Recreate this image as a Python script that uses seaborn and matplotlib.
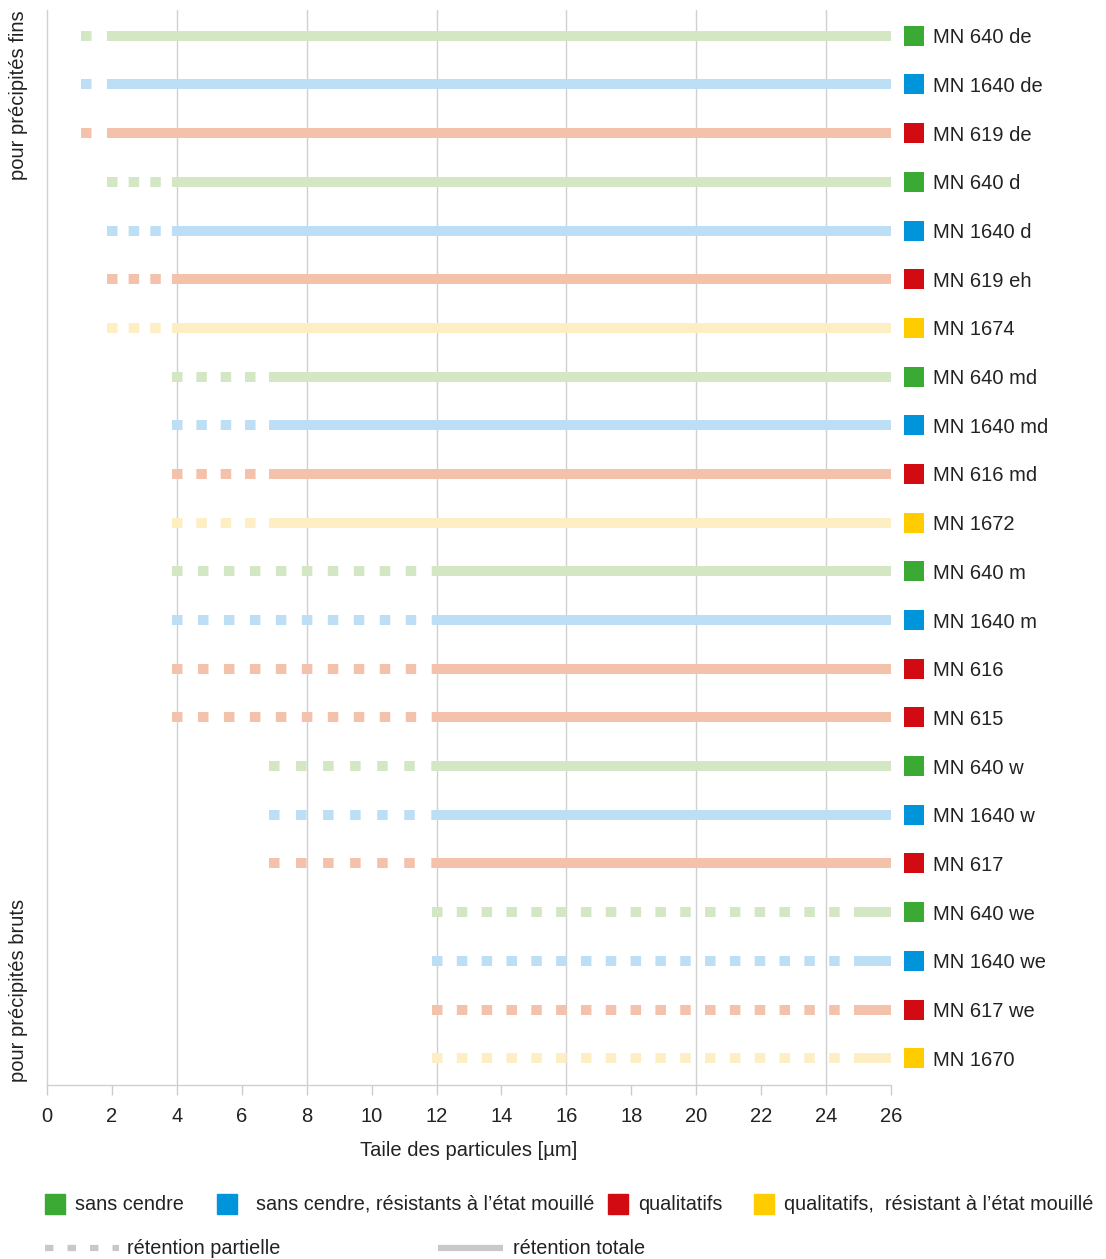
import matplotlib
matplotlib.use("Agg")
import matplotlib.pyplot as plt
import matplotlib.transforms as mtransforms
from matplotlib.patches import Rectangle
from matplotlib.lines import Line2D
import seaborn as sns

# filter names, top to bottom
names = ['MN 640 de', 'MN 1640 de', 'MN 619 de', 'MN 640 d', 'MN 1640 d', 'MN 619 eh',
         'MN 1674', 'MN 640 md', 'MN 1640 md', 'MN 616 md', 'MN 1672', 'MN 640 m',
         'MN 1640 m', 'MN 616', 'MN 615', 'MN 640 w', 'MN 1640 w', 'MN 617',
         'MN 640 we', 'MN 1640 we', 'MN 617 we', 'MN 1670']
# g = sans cendre, b = sans cendre humide, r = qualitatif, y = qualitatif humide
kind = ['g', 'b', 'r', 'g', 'b', 'r', 'y', 'g', 'b', 'r', 'y', 'g',
        'b', 'r', 'r', 'g', 'b', 'r', 'g', 'b', 'r', 'y']
partial_start = [1.2, 1.2, 1.2, 2, 2, 2, 2, 4, 4, 4, 4, 4,
                 4, 4, 4, 7, 7, 7, 12, 12, 12, 12]
total_start = [2, 2, 2, 4, 4, 4, 4, 7, 7, 7, 7, 12,
               12, 12, 12, 12, 12, 12, 25, 25, 25, 25]
x_max = 26

strong = {'g': '#3aaa35', 'b': '#0095db', 'r': '#d20a11', 'y': '#ffcc00'}
pale = {'g': '#d4e7c5', 'b': '#bddff6', 'r': '#f4c1ab', 'y': '#fdeec4'}
legend_labels = {'g': 'sans cendre', 'b': 'sans cendre, résistants à l’état mouillé',
                 'r': 'qualitatifs', 'y': 'qualitatifs,  résistant à l’état mouillé'}

sns.set_theme(style='white')
plt.rcParams['font.family'] = ['Liberation Sans', 'DejaVu Sans']
txt = '#222222'
fs = 14.5
W, H = 1106, 1259

fig = plt.figure(figsize=(W / 100, H / 100), dpi=100)
ax = fig.add_axes([47 / W, 1 - 1085 / H, (891 - 47) / W, (1085 - 10) / H])

lw = 7.2          # 10 px
px_per_unit = (891 - 47) / 26
for i in range(len(names)):
    c = pale[kind[i]]
    # dashes spaced evenly between start of partial and start of total retention
    span_px = (total_start[i] - partial_start[i]) * px_per_unit
    n = max(1, int(round(span_px / 25)))
    period = span_px / n / 10
    ax.plot([partial_start[i], total_start[i]], [i, i], color=c, lw=lw,
            linestyle=(0, (0.05, period - 0.05)), dash_capstyle='projecting', zorder=3)
    ax.plot([total_start[i], x_max], [i, i], color=c, lw=lw,
            solid_capstyle='projecting', zorder=3)

ax.set_xlim(0, 26)
ax.set_ylim(len(names) - 0.45, -0.53)
ax.set_yticks([])
ax.set_xticks(range(0, 27, 2))
ax.tick_params(axis='x', colors='#cccccc', labelcolor=txt, labelsize=fs,
               length=7, width=1, direction='out', pad=9, bottom=True)
for gx in range(4, 26, 4):
    ax.axvline(gx, color='#d0d0d0', lw=1, zorder=1)
for s in ['top', 'right']:
    ax.spines[s].set_visible(False)
for s in ['left', 'bottom']:
    ax.spines[s].set_color('#d0d0d0')
    ax.spines[s].set_linewidth(1)
ax.set_xlabel('Taile des particules [µm]', fontsize=fs, color=txt, labelpad=11)

# labels with colour squares on the right
tr = mtransforms.blended_transform_factory(ax.transAxes, ax.transData)
for i, n in enumerate(names):
    ax.plot([1.0267], [i], marker='s', ms=14.4, color=strong[kind[i]], mew=0,
            transform=tr, clip_on=False)
    ax.text(1.0498, i, n, transform=tr, fontsize=fs, color=txt,
            va='center_baseline', ha='left')

# group labels on the left
fig.text(19 / W, 1 - 10 / H, 'pour précipités fins', rotation=90,
         fontsize=fs, color=txt, ha='center', va='top')
fig.text(19 / W, 1 - 1082 / H, 'pour précipités bruts', rotation=90,
         fontsize=fs, color=txt, ha='center', va='bottom')

# bottom legend
y1 = 1 - 1204 / H
for k, xs, xt in [('g', 45, 75), ('b', 217, 256), ('r', 608, 638), ('y', 754, 784)]:
    fig.patches.append(Rectangle((xs / W, y1 - 10 / H), 20 / W, 20 / H,
                                 color=strong[k], transform=fig.transFigure))
    fig.text(xt / W, y1, legend_labels[k], fontsize=14.3, color=txt,
             va='center', ha='left')

y2 = 1 - 1248 / H
fig.lines.append(Line2D([45 / W, 119 / W], [y2, y2], color='#c8c8c8', lw=4.5,
                        linestyle=(0, (1.35, 2.25)), dash_capstyle='butt',
                        transform=fig.transFigure))
fig.text(127 / W, y2, 'rétention partielle', fontsize=14.3, color=txt,
         va='center', ha='left')
fig.lines.append(Line2D([438 / W, 503 / W], [y2, y2], color='#c8c8c8', lw=4.5,
                        solid_capstyle='butt', transform=fig.transFigure))
fig.text(513 / W, y2, 'rétention totale', fontsize=14.3, color=txt,
         va='center', ha='left')

fig.savefig('out.png', dpi=100, facecolor='white')
